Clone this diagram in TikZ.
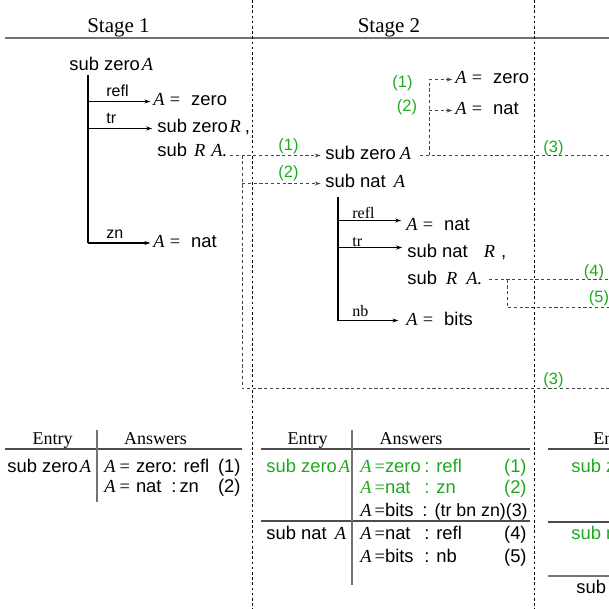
\documentclass[tikz,border=0pt]{standalone}
\usepackage{fontspec}
\setmainfont{Liberation Serif}
\newfontfamily\hv{Liberation Sans}
\usetikzlibrary{arrows.meta}

\definecolor{grn}{RGB}{30,170,30}
\definecolor{rulegray}{RGB}{115,115,115}
\definecolor{dashgray}{RGB}{70,70,70}

% italic variable in serif, gaps, and the "A = x" answer forms
\newcommand\va[1]{{\rmfamily\itshape #1}}
\newcommand\gp[1]{\hspace{#1pt}}
\newcommand\eqs[1]{\va{A}\gp{2.6}{\rmfamily =}\gp{5.5}#1}
\newcommand\eqx[1]{\va{A}\gp{2}{\rmfamily =}\gp{3}#1}
\newcommand\eqt[1]{\va{A}\gp{1.5}{\rmfamily =}#1}

\tikzset{
  txt/.style={inner sep=0pt, anchor=base west, font=\hv\fontsize{9.2}{11}\selectfont},
  tab/.style={inner sep=0pt, anchor=base west, font=\hv\fontsize{9.2}{11}\selectfont},
  tabr/.style={tab, anchor=base east},
  lbl/.style={inner sep=0pt, anchor=base west, font=\hv\fontsize{8}{9}\selectfont},
  slbl/.style={inner sep=0pt, anchor=base west, font=\fontsize{8}{9}\selectfont},
  num/.style={inner sep=0pt, text=grn, font=\hv\fontsize{8.2}{9}\selectfont},
  title/.style={inner sep=0pt, anchor=base, font=\fontsize{10.5}{12}\selectfont},
  head/.style={inner sep=0pt, anchor=base, font=\fontsize{9}{10}\selectfont},
  tree/.style={line width=0.6pt},
  arr/.style={tree, -{Stealth[length=3pt,width=2pt]}},
  conn/.style={draw=dashgray, line width=0.5pt, dash pattern=on 1.6pt off 1.3pt},
  carr/.style={conn, -{Stealth[length=3pt,width=2pt]}},
  sep/.style={line width=0.45pt, dash pattern=on 1.3pt off 1.3pt},
  trule/.style={draw=black!70, line width=0.55pt},
  vrule/.style={draw=rulegray, line width=0.7pt},
}

\begin{document}
\begin{tikzpicture}[x=0.5pt, y=-0.5pt]
\useasboundingbox (0,0) rectangle (609,609);
\clip (0,0) rectangle (609,609);

% ---- headings and column separators
\node[title] (st1) at (118.5,33) {Stage 1};
\node[title] (st2) at (389,33) {Stage 2};
\draw[draw=rulegray, line width=0.8pt] (5,38) -- (609,38);
\draw[sep] (252,0) -- (252,609);
\draw[sep] (534,0) -- (534,609);

% ---- stage 1 derivation tree
\node[txt] (a0) at (69,71) {sub zero\gp{1}\va{A}};
\node[txt] (a1) at (153,105.5) {\eqs{zero}};
\node[txt] (a2) at (157,133) {sub zero\gp{0.8}\va{R}\gp{2},};
\node[txt] (a3) at (157,157) {sub\gp{3.5}\va{R}\gp{3}\va{A.}};
\node[txt] (a4) at (153,247) {\eqs{nat}};
\coordinate (v0) at (88,75);
\coordinate (v1) at (88,101.5);
\coordinate (v2) at (88,128.5);
\coordinate (v3) at (88,243);
\draw[tree] (v0) -- (v3);
\draw[arr, shorten >=1.3pt] (v1) -- (v1 -| a1.west);
\draw[arr, shorten >=2.4pt] (v2) -- (v2 -| a2.west);
\draw[arr, shorten >=1.3pt] (v3) -- (v3 -| a4.west);
\node[lbl] (l1) at (106,97) {refl};
\node[lbl] (l2) at (106,124) {tr};
\node[lbl] (l3) at (106,238.5) {zn};

% ---- stage 1 -> stage 2 calls
\node[txt] (b0) at (325,160) {sub zero\gp{2}\va{A}};
\node[txt] (b1) at (325,187.5) {sub nat\gp{4}\va{A}};
\coordinate (p0) at (230,155.5);
\coordinate (j1) at (242,155.5);
\coordinate (j2) at (242,183.5);
\coordinate (j3) at (242,388.5);
\coordinate (j4) at (609,388.5);
\draw[carr, shorten >=2.2pt] (p0) -- (p0 -| b0.west);
\draw[conn] (j1) -- (j3) -- (j4);
\draw[carr, shorten >=2.2pt] (j2) -- (j2 -| b1.west);
\node[num] (n1) at (288.5,146.5) {(1)};
\node[num] (n2) at (288.5,173) {(2)};
\node[num] (n3) at (553.5,380) {(3)};

% ---- answers returned to sub zero A
\node[txt] (c1) at (455,83.5) {\eqs{zero}};
\node[txt] (c2) at (455,115) {\eqs{nat}};
\coordinate (k0) at (420,155.5);
\coordinate (k1) at (429,155.5);
\coordinate (k2) at (429,79.5);
\coordinate (k3) at (429,110.5);
\coordinate (k4) at (609,155.5);
\draw[conn] (k0) -- (k4);
\draw[conn] (k1) -- (k2);
\draw[carr, shorten >=1.3pt] (k2) -- (k2 -| c1.west);
\draw[carr, shorten >=1.3pt] (k3) -- (k3 -| c2.west);
\node[num] (n4) at (402.5,83) {(1)};
\node[num] (n5) at (407,107) {(2)};
\node[num] (n6) at (553.5,148) {(3)};

% ---- stage 2 derivation tree for sub nat A
\node[txt] (d1) at (406,230) {\eqs{nat}};
\node[txt] (d2) at (407,257) {sub nat\gp{8}\va{R}\gp{3},};
\node[txt] (d3) at (407,284) {sub\gp{4.5}\va{R}\gp{4.5}\va{A.}};
\node[txt] (d4) at (406,325) {\eqs{bits}};
\coordinate (w0) at (338,197);
\coordinate (w1) at (338,220.5);
\coordinate (w2) at (338,247.5);
\coordinate (w3) at (338,320.5);
\draw[tree] (w0) -- (w3);
\draw[arr, shorten >=2.4pt] (w1) -- (w1 -| d1.west);
\draw[arr, shorten >=2.4pt] (w2) -- (w2 -| d2.west);
\draw[arr, shorten >=3.8pt] (w3) -- (w3 -| d4.west);
\node[slbl] (m1) at (352,219) {refl};
\node[slbl] (m2) at (352,246.5) {tr};
\node[slbl] (m3) at (352,316.5) {nb};

% ---- calls from sub R A. in stage 2
\coordinate (q0) at (489,279.5);
\coordinate (q1) at (507,279.5);
\coordinate (q2) at (507,307.5);
\coordinate (q3) at (609,279.5);
\coordinate (q4) at (609,307.5);
\draw[conn] (q0) -- (q3);
\draw[conn] (q1) -- (q2) -- (q4);
\node[num] (n7) at (594,272) {(4)};
\node[num] (n8) at (599,298.5) {(5)};

% ---- stage 1 table
\node[head] (h1) at (52.5,444) {Entry};
\node[head] (h2) at (155.5,444) {Answers};
\draw[trule] (5,449) -- (242,449);
\draw[vrule] (97,430) -- (97,502);
\node[tab] (e1) at (7,472) {sub zero\gp{1}\va{A}};
\node[tab] (f1) at (104,472) {\eqx{zero}: refl};
\node[tabr] (f1c) at (241,472) {(1)};
\node[tab] (f2) at (104,492) {\eqx{nat}};
\node[tab] (f2b) at (171,492) {:\gp{1.5}zn};
\node[tabr] (f2c) at (241,492) {(2)};

% ---- stage 2 table
\node[head] (h3) at (307.5,444) {Entry};
\node[head] (h4) at (411,444) {Answers};
\draw[trule] (261,449) -- (530,449);
\draw[trule] (261,521) -- (530,521);
\draw[vrule] (352,430) -- (352,585);
\node[tab, text=grn] (g1) at (266,472) {sub zero\gp{1}\va{A}};
\node[tab, text=grn] (r1) at (360,472) {\eqt{zero}};
\node[tab, text=grn] (r1b) at (424,472) {: refl};
\node[tabr, text=grn] (r1c) at (527,472) {(1)};
\node[tab, text=grn] (r2) at (360,493) {\eqt{nat}};
\node[tab, text=grn] (r2b) at (424,493) {: zn};
\node[tabr, text=grn] (r2c) at (527,493) {(2)};
\node[tab] (r3) at (360,516) {\eqt{bits}};
\node[tab] (r3b) at (422,516) {:};
\node[tabr, font=\hv\fontsize{8.9}{11}\selectfont] (r3c) at (528,516) {(tr bn zn)(3)};
\node[tab] (g2) at (266,539) {sub nat\gp{4}\va{A}};
\node[tab] (r4) at (360,539) {\eqt{nat}};
\node[tab] (r4b) at (424,539) {: refl};
\node[tabr] (r4c) at (527,539) {(4)};
\node[tab] (r5) at (360,562) {\eqt{bits}};
\node[tab] (r5b) at (424,562) {: nb};
\node[tabr] (r5c) at (527,562) {(5)};

% ---- stage 3 table (left edge only)
\node[head, anchor=base west] (h5) at (593,444) {Entry};
\draw[trule] (548,449) -- (609,449);
\draw[trule] (548,522) -- (609,522);
\draw[vrule] (548,576) -- (609,576);
\node[tab, text=grn] (x1) at (571,472) {sub zero\gp{1}\va{A}};
\node[tab, text=grn] (x2) at (571,539) {sub nat\gp{4}\va{A}};
\node[tab] (x3) at (576,593) {sub};
\end{tikzpicture}
\end{document}
